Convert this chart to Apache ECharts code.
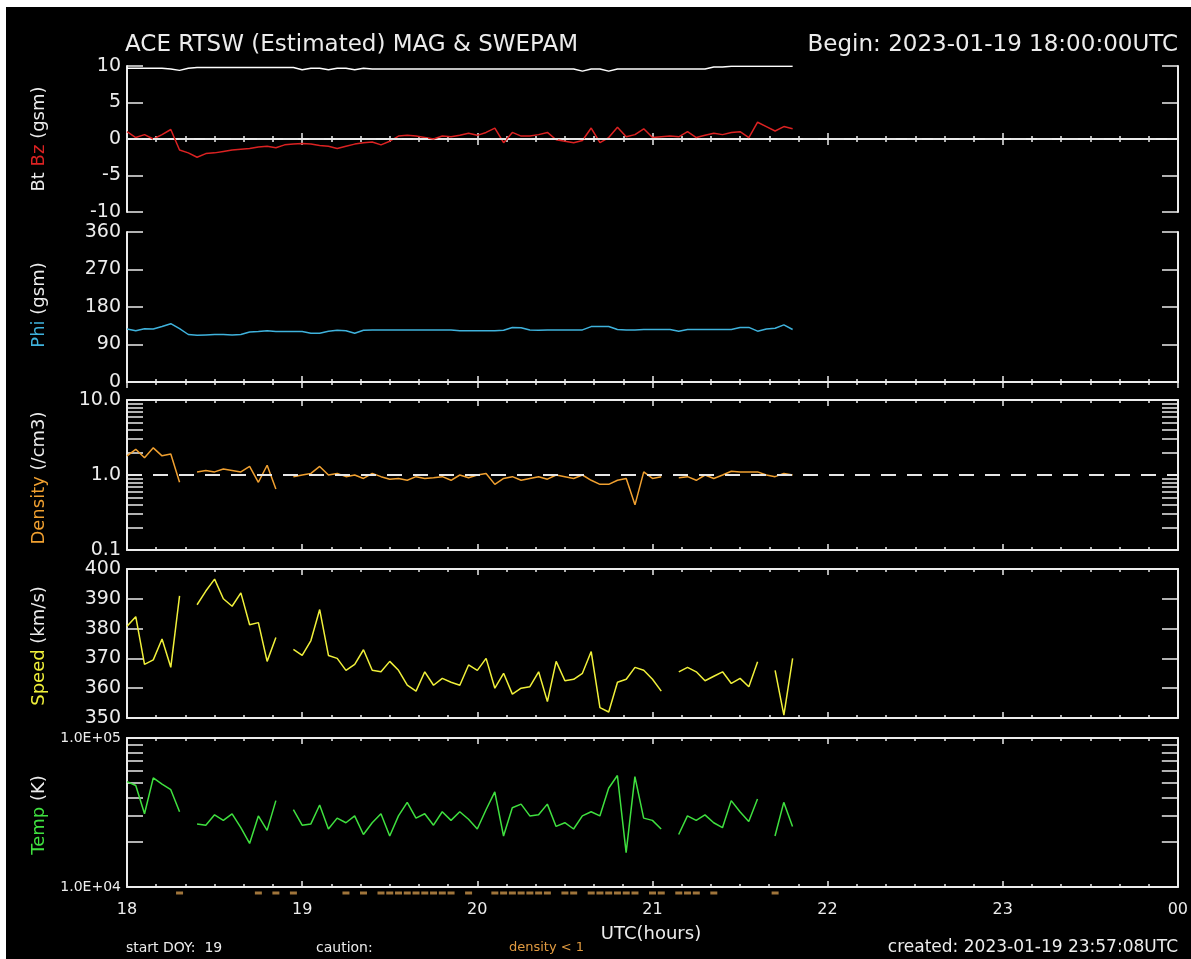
<!DOCTYPE html>
<html>
<head>
<meta charset="utf-8">
<title>ACE RTSW (Estimated) MAG &amp; SWEPAM</title>
<script src="https://cdn.jsdelivr.net/npm/echarts@6/dist/echarts.min.js"></script>
<style>
html, body { margin: 0; padding: 0; background: #fff; }
#chart { width: 1191px; height: 959px; }
</style>
</head>
<body>
<div id="chart"></div>
<script>
// samples every 3 minutes, starting at 18:00 UTC
var startHour = 18;
var stepMinutes = 3;

var hourLabels = ['18', '19', '20', '21', '22', '23', '00'];

var btValues = [
  9.7, 9.7, 9.7, 9.7, 9.7, 9.6, 9.4, 9.7, 9.8, 9.8,
  9.8, 9.8, 9.8, 9.8, 9.8, 9.8, 9.8, 9.8, 9.8, 9.8,
  9.5, 9.7, 9.7, 9.5, 9.7, 9.7, 9.5, 9.7, 9.6, 9.6,
  9.6, 9.6, 9.6, 9.6, 9.6, 9.6, 9.6, 9.6, 9.6, 9.6,
  9.6, 9.6, 9.6, 9.6, 9.6, 9.6, 9.6, 9.6, 9.6, 9.6,
  9.6, 9.6, 9.3, 9.6, 9.6, 9.3, 9.6, 9.6, 9.6, 9.6,
  9.6, 9.6, 9.6, 9.6, 9.6, 9.6, 9.6, 9.85, 9.85, 9.95,
  9.95, 9.95, 9.95, 9.95, 9.95, 9.95, 9.95
];
var bzValues = [
  1.0, 0.2, 0.6, 0.0, 0.6, 1.3, -1.5, -1.9, -2.5, -2.0,
  -1.9, -1.7, -1.5, -1.4, -1.3, -1.1, -1.0, -1.2, -0.8, -0.7,
  -0.6, -0.7, -0.9, -1.0, -1.3, -1.0, -0.7, -0.5, -0.4, -0.8,
  -0.3, 0.4, 0.5, 0.4, 0.2, 0.0, 0.4, 0.3, 0.5, 0.8,
  0.5, 0.9, 1.5, -0.5, 0.9, 0.4, 0.4, 0.6, 0.9, -0.1,
  -0.3, -0.5, -0.2, 1.5, -0.5, 0.2, 1.6, 0.3, 0.6, 1.4,
  0.2, 0.3, 0.4, 0.3, 1.0, 0.2, 0.5, 0.8, 0.6, 0.9,
  1.0, 0.2, 2.3, 1.7, 1.1, 1.7, 1.4
];
var phiValues = [
  127, 123, 128, 127, 133, 140, 128, 114, 112, 113,
  114, 114, 113, 114, 120, 121, 123, 121, 121, 121,
  121, 117, 117, 122, 124, 123, 117, 124, 125, 125,
  125, 125, 125, 125, 125, 125, 125, 125, 123, 123,
  123, 123, 123, 124, 131, 130, 125, 124, 125, 125,
  125, 125, 125, 133, 133, 133, 126, 125, 125, 126,
  126, 126, 126, 122, 126, 126, 126, 126, 126, 126,
  131, 131, 122, 127, 129, 137, 126
];
var densityValues = [
  1.8, 2.2, 1.7, 2.3, 1.8, 1.9, 0.8, null, 1.1, 1.15,
  1.1, 1.2, 1.15, 1.1, 1.3, 0.8, 1.35, 0.65, null, 0.95,
  1.0, 1.05, 1.3, 1.0, 1.05, 0.95, 1.0, 0.9, 1.05, 0.95,
  0.88, 0.9, 0.85, 0.95, 0.9, 0.92, 0.95, 0.85, 1.0, 0.92,
  1.0, 1.05, 0.75, 0.9, 0.95, 0.85, 0.9, 0.95, 0.88, 1.0,
  0.95, 0.9, 1.0, 0.85, 0.75, 0.75, 0.85, 0.9, 0.4, 1.1,
  0.9, 0.95, null, 0.92, 0.95, 0.85, 1.0, 0.9, 1.0, 1.12,
  1.1, 1.1, 1.1, 1.0, 0.95, 1.05, 1.0
];
var speedValues = [
  380.8, 384, 368, 369.5, 376.5, 367, 391, null, 388, 392.6,
  396.6, 390, 387.5, 392, 381.3, 382, 369, 377, null, 373,
  371, 376, 386.4, 371, 370, 366, 368, 372.9, 366, 365.5,
  369, 366, 361, 359, 365.5, 361, 363.3, 362, 361, 367.8,
  366, 370, 360, 365, 358, 360, 360.5, 365.5, 355.5, 369,
  362.5, 363, 365, 372.3, 353.5, 352, 362, 363, 367, 366,
  363, 359, null, 365.5, 367, 365.5, 362.5, 364, 365.5, 361.6,
  363.3, 360.5, 368.9, null, 366, 351, 370
];
var tempValues = [
  51000, 48000, 31000, 54000, 49000, 45000, 32000, null, 26500, 26000,
  30500, 28000, 31000, 25000, 19600, 30000, 24000, 38000, null, 33000,
  26000, 26500, 35500, 24500, 29000, 27000, 30000, 22500, 27000, 31000,
  22000, 30000, 37000, 29000, 31000, 26000, 32000, 28000, 32000, 28500,
  24500, 33000, 43500, 22000, 34000, 36000, 30000, 30500, 36000, 25500,
  27000, 24500, 30000, 32000, 30000, 46000, 56000, 17000, 55000, 29000,
  28000, 24500, null, 22500, 30000, 28000, 30500, 27000, 25000, 38000,
  32000, 27500, 39000, null, 22000, 37000, 25500
];

var densityTicks = [0.2, 0.3, 0.4, 0.5, 0.6, 0.7, 0.8, 0.9, 2, 3, 4, 5, 6, 7, 8, 9];
var tempTicks = [20000, 30000, 40000, 50000, 60000, 70000, 80000, 90000];

var FONT = '"DejaVu Sans", sans-serif';
var FG = '#ececec';

function toPoints(values) {
  return values.map(function (v, i) {
    return [startHour + i * stepMinutes / 60, v === null ? '-' : v];
  });
}

var panels = [
  { top: 66, height: 146 },
  { top: 232, height: 150 },
  { top: 400, height: 150 },
  { top: 569, height: 149 },
  { top: 738, height: 149 }
];

var yScales = [
  { type: 'value', min: -10, max: 10, interval: 5 },
  { type: 'value', min: 0, max: 360, interval: 90 },
  {
    type: 'log', logBase: 10, min: 0.1, max: 10, ticks: densityTicks, labels: [0.1, 1, 10],
    fmt: function (v) { return v >= 1 ? v.toFixed(1) : String(v); }
  },
  { type: 'value', min: 350, max: 400, interval: 10 },
  {
    type: 'log', logBase: 10, min: 10000, max: 100000, ticks: tempTicks, labels: [10000, 100000], size: 14,
    fmt: function (v) { return '1.0E+0' + Math.round(Math.log10(v)); }
  }
];

var grid = [];
var xAxis = [];
var yAxis = [];

panels.forEach(function (p, k) {
  grid.push({ left: 127, right: 13, top: p.top, height: p.height });
  var last = k === panels.length - 1;
  ['bottom', 'top'].forEach(function (pos) {
    xAxis.push({
      type: 'value', gridIndex: k, position: pos, min: 18, max: 24, interval: 1,
      axisLine: { show: true, lineStyle: { color: FG, width: 2 } },
      axisTick: { show: true, inside: true, length: 6, lineStyle: { color: FG, width: 1.5 } },
      minorTick: { show: true, splitNumber: 6, length: 3, lineStyle: { color: FG, width: 1.5 } },
      splitLine: { show: false },
      axisLabel: {
        show: last && pos === 'bottom',
        color: FG, fontFamily: FONT, fontSize: 16, margin: 15,
        showMinLabel: true, showMaxLabel: true,
        formatter: function (v) { return hourLabels[Math.round(v - startHour)]; }
      }
    });
  });
  var s = yScales[k];
  ['left', 'right'].forEach(function (pos) {
    var ax = {
      type: s.type, gridIndex: k, position: pos, min: s.min, max: s.max,
      axisLine: { show: true, lineStyle: { color: FG, width: 2 } },
      axisTick: { show: true, inside: true, length: 16, lineStyle: { color: FG, width: 1.5 } },
      splitLine: { show: false },
      axisLabel: {
        show: pos === 'left', color: FG, fontFamily: FONT, fontSize: s.size || 19, margin: 6
      }
    };
    if (s.type === 'log') {
      ax.logBase = 10;
      ax.axisTick.customValues = s.ticks;
      ax.axisLabel.customValues = s.labels;
      ax.axisLabel.formatter = s.fmt;
    } else {
      ax.interval = s.interval;
    }
    yAxis.push(ax);
  });
});

// thin strip under the last panel for the density < 1 caution marks
grid.push({ left: 127, right: 13, top: 890, height: 6 });
xAxis.push({ type: 'value', gridIndex: 5, min: 18, max: 24, show: false });
yAxis.push({ type: 'value', gridIndex: 5, min: 0, max: 1, show: false });

var cautionPoints = [];
densityValues.forEach(function (v, i) {
  if (v !== null && v < 1) cautionPoints.push([startHour + i * stepMinutes / 60, 0.5]);
});

function zeroLine(value) {
  return {
    silent: true, symbol: ['none', 'none'], label: { show: false },
    lineStyle: { color: '#e6e6e6', width: 2, type: [15, 11] },
    data: [{ yAxis: value }]
  };
}

function lineSeries(name, values, k, color, extra) {
  var s = {
    name: name, type: 'line', xAxisIndex: 2 * k, yAxisIndex: 2 * k,
    data: toPoints(values), showSymbol: false, connectNulls: false,
    lineStyle: { color: color, width: 1.5 }, itemStyle: { color: color }
  };
  return Object.assign(s, extra || {});
}

function label(text, x, y, opts) {
  opts = opts || {};
  return {
    type: 'text', x: x, y: y, rotation: opts.rotation || 0,
    style: {
      text: text, fill: opts.color || FG,
      font: (opts.size || 16) + 'px ' + FONT,
      align: opts.align || 'left', verticalAlign: 'middle',
      rich: opts.rich
    }
  };
}

function sideLabel(text, y, rich) {
  return label(text, 39, y, { rotation: Math.PI / 2, align: 'center', size: 18, rich: rich });
}

function richColor(c) {
  return { fill: c, font: '18px ' + FONT };
}
var white = richColor(FG);

var chart = echarts.init(document.getElementById('chart'));
chart.setOption({
  backgroundColor: '#000',
  animation: false,
  grid: grid,
  xAxis: xAxis,
  yAxis: yAxis,
  series: [
    lineSeries('Bt', btValues, 0, '#ffffff'),
    lineSeries('Bz', bzValues, 0, '#dc2222', { markLine: zeroLine(0) }),
    lineSeries('Phi', phiValues, 1, '#3fb2dc'),
    lineSeries('Density', densityValues, 2, '#f0a030', { markLine: zeroLine(1) }),
    lineSeries('Speed', speedValues, 3, '#f0f03a'),
    lineSeries('Temp', tempValues, 4, '#3fe03f'),
    {
      name: 'density < 1', type: 'scatter', xAxisIndex: 10, yAxisIndex: 10,
      data: cautionPoints, symbol: 'rect', symbolSize: [7, 3],
      itemStyle: { color: '#c8924a' }
    }
  ],
  graphic: [
    { type: 'rect', shape: { x: 0, y: 0, width: 1191, height: 7 }, style: { fill: '#fff' } },
    { type: 'rect', shape: { x: 0, y: 0, width: 6, height: 959 }, style: { fill: '#fff' } },
    label('ACE RTSW (Estimated) MAG & SWEPAM', 125, 45, { size: 23 }),
    label('Begin: 2023-01-19 18:00:00UTC', 1178, 45, { size: 23, align: 'right' }),
    sideLabel('{w|Bt} {r|Bz} {w|(gsm)}', 139, { w: white, r: richColor('#dc2222') }),
    sideLabel('{c|Phi} {w|(gsm)}', 305, { w: white, c: richColor('#3fb2dc') }),
    sideLabel('{o|Density} {w|(/cm3)}', 478, { w: white, o: richColor('#f0a030') }),
    sideLabel('{y|Speed} {w|(km/s)}', 646, { w: white, y: richColor('#f0f03a') }),
    sideLabel('{g|Temp} {w|(K)}', 815, { w: white, g: richColor('#3fe03f') }),
    label('UTC(hours)', 651, 934, { size: 18, align: 'center' }),
    label('start DOY:  19', 126, 948, { size: 14 }),
    label('caution:', 316, 948, { size: 14 }),
    label('density < 1', 509, 948, { size: 13, color: '#e09a40' }),
    label('created: 2023-01-19 23:57:08UTC', 1178, 948, { size: 17, align: 'right' })
  ]
});
</script>
</body>
</html>
